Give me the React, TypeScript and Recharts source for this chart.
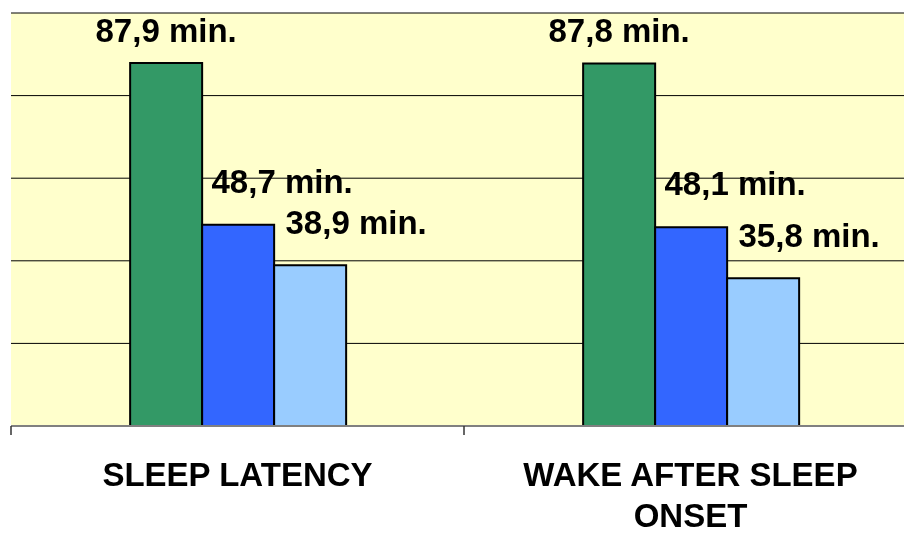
import { BarChart, Bar, XAxis, YAxis, CartesianGrid, LabelList } from 'recharts'

const categories = ['SLEEP LATENCY', 'WAKE AFTER SLEEP ONSET']
const seriesA = [87.9, 87.8]
const seriesB = [48.7, 48.1]
const seriesC = [38.9, 35.8]
const yTicks = [0, 20, 40, 60, 80, 100]

const data = categories.map((c, i) => ({ name: c, a: seriesA[i], b: seriesB[i], c: seriesC[i] }))

const W = 912
const H = 527
const M = { top: 5, right: 3, left: 3, bottom: 0 }
const font = '"Liberation Sans", Arial, sans-serif'

const fmt = (v: number) => v.toFixed(1).replace('.', ',') + ' min.'

const valueLabel = (dx: number, gap: number) => (p: any) => {
  const { x, y, width, value } = p
  return (
    <text x={x + width / 2 + dx} y={y - gap} textAnchor="middle" fontFamily={font}
      fontWeight="bold" fontSize={33} fill="#000">{fmt(value)}</text>
  )
}

const lines: Record<string, string[]> = {
  'SLEEP LATENCY': ['SLEEP LATENCY'],
  'WAKE AFTER SLEEP ONSET': ['WAKE AFTER SLEEP', 'ONSET'],
}

function CatTick(p: any) {
  const { x, y, payload, index } = p
  const band = (W - M.left - M.right) / categories.length
  const half = band / 2
  const rows = lines[payload.value] ?? [payload.value]
  return (
    <g>
      <line x1={x - half} x2={x - half} y1={y} y2={y + 9} stroke="#333" strokeWidth={1.5} />
      {index === categories.length - 1 && (
        <line x1={x + half} x2={x + half} y1={y} y2={y + 9} stroke="#333" strokeWidth={1.5} />
      )}
      {rows.map((r, i) => (
        <text key={i} x={x} y={y + 60 + i * 41} textAnchor="middle" fontFamily={font}
          fontWeight="bold" fontSize={33} fill="#000">{r}</text>
      ))}
    </g>
  )
}

export default function App() {
  return (
    <div style={{ position: 'fixed', left: 8, top: 8, width: 896, height: H, overflow: 'hidden' }}>
      <BarChart width={W} height={H} data={data} margin={M} barCategoryGap="26.3%" barGap={0}>
        <CartesianGrid vertical={false} stroke="#000" fill="#FFFFCC" />
        <YAxis hide domain={[0, 100]} ticks={yTicks} />
        <XAxis dataKey="name" height={109} axisLine={{ stroke: '#808080', strokeWidth: 2 }}
          tickLine={false} tickSize={0} tickMargin={0} tick={<CatTick />} interval={0} />
        <Bar dataKey="a" fill="#339966" stroke="#000" strokeWidth={2} isAnimationActive={false}>
          <LabelList dataKey="a" content={valueLabel(0, 21)} />
        </Bar>
        <Bar dataKey="b" fill="#3366FF" stroke="#000" strokeWidth={2} isAnimationActive={false}>
          <LabelList dataKey="b" content={valueLabel(44, 32)} />
        </Bar>
        <Bar dataKey="c" fill="#99CCFF" stroke="#000" strokeWidth={2} isAnimationActive={false}>
          <LabelList dataKey="c" content={valueLabel(46, 31)} />
        </Bar>
      </BarChart>
    </div>
  )
}
